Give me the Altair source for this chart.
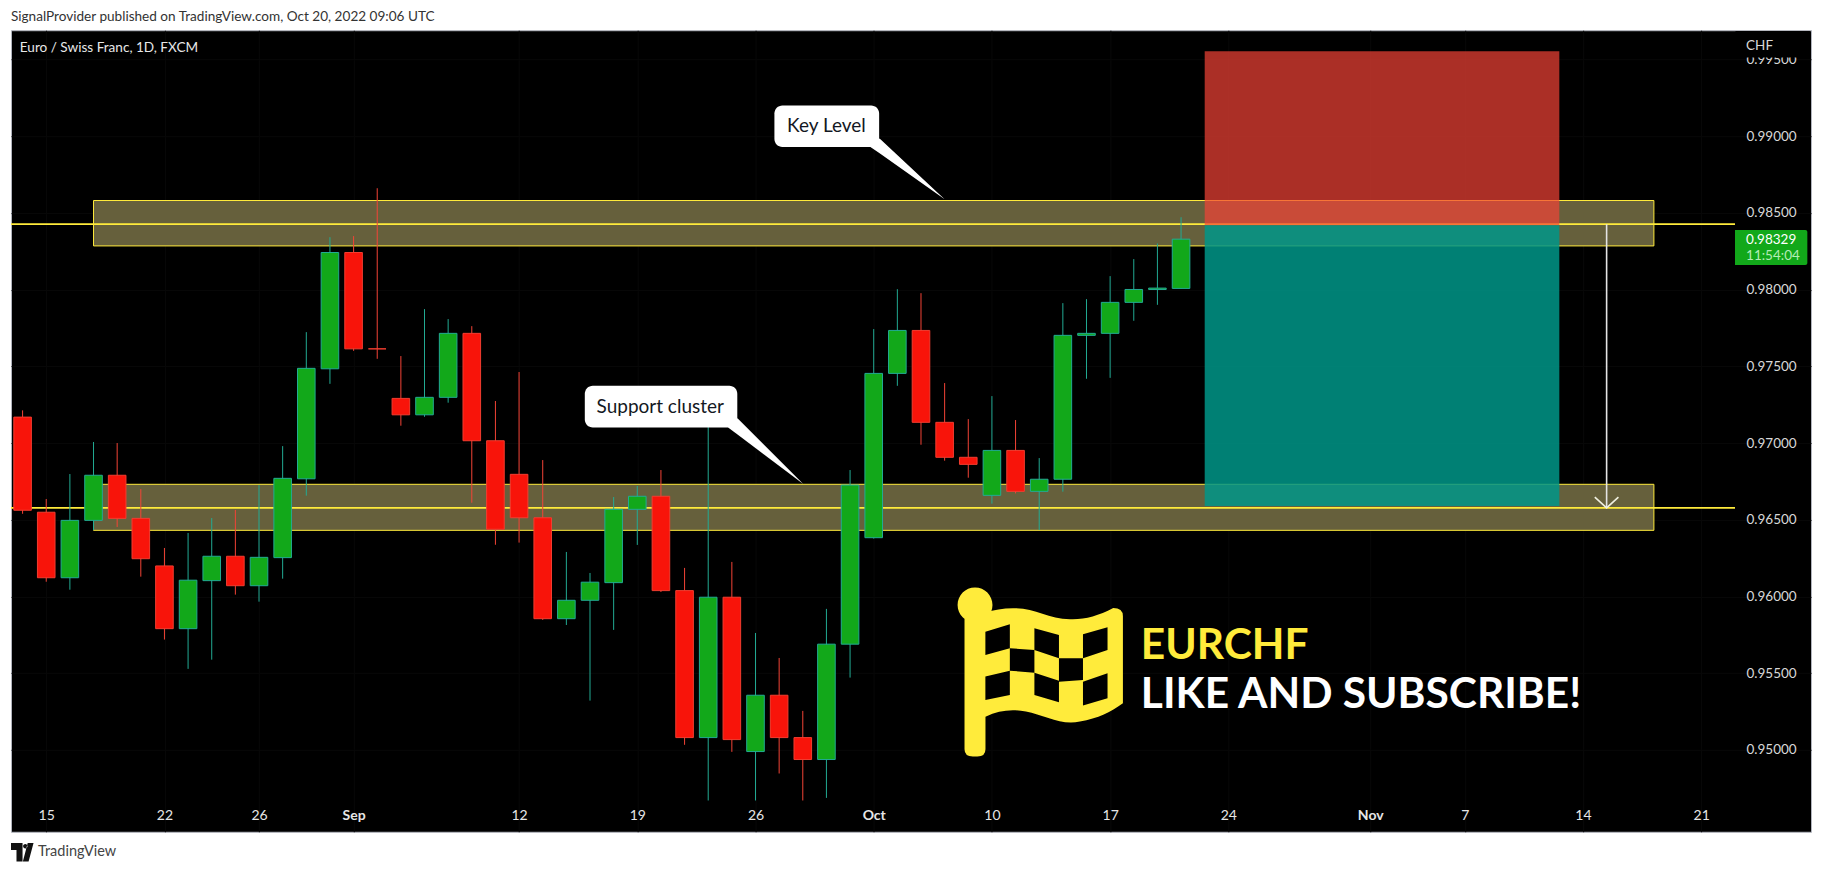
import altair as alt
import pandas as pd

# ---- daily candles, Aug 12 - Oct 20 2022 (trading-day index 0..49) ----
opens = [.97169,.96549,.96122,.96496,.96790,.96509,.96199,.95790,.96103,.96262,
         .96070,.96253,.96767,.97484,.98242,.97614,.97291,.97184,.97298,.97715,
         .97015,.96796,.96513,.95855,.95975,.96090,.96568,.96653,.96038,.95080,
         .95995,.94989,.95356,.95080,.94937,.95689,.96383,.97454,.97734,.97135,
         .96907,.96659,.96952,.96685,.96764,.97702,.97715,.97917,.98001,.98008]
closes = [.96562,.96122,.96496,.96790,.96509,.96246,.95790,.96106,.96262,.96070,
          .96255,.96770,.97487,.98242,.97614,.97614,.97184,.97298,.97715,.97015,
          .96438,.96513,.95855,.95975,.96093,.96568,.96653,.96038,.95080,.95995,
          .95067,.95356,.95080,.94937,.95689,.96726,.97454,.97734,.97135,.96907,
          .96861,.96952,.96685,.96764,.97702,.97715,.97917,.98001,.98010,.98329]
highs = [.97213,.96635,.96798,.97007,.97000,.96700,.96316,.96414,.96511,.96564,
         .96726,.96980,.97723,.98342,.98349,.98661,.97567,.97873,.97808,.97762,
         .97274,.97463,.96889,.96290,.96153,.96648,.96720,.96824,.96186,.97150,
         .96225,.95762,.95599,.95254,.95919,.96824,.97743,.98003,.97977,.97391,
         .97156,.97306,.97150,.96902,.97912,.97938,.98088,.98199,.98301,.98472]
lows = [.96539,.96096,.96044,.96433,.96453,.96129,.95719,.95528,.95588,.96012,
        .95966,.96116,.96657,.97386,.97601,.97549,.97113,.97171,.97263,.96611,
        .96337,.96351,.95847,.95814,.95321,.95782,.96336,.96029,.95033,.94670,
        .94987,.94670,.94846,.94670,.94687,.95471,.96377,.97373,.96989,.96885,
        .96774,.96605,.96672,.96433,.96683,.97419,.97425,.97797,.97901,.98008]

# ---- axes ----
x_tick_idx = [1, 6, 10, 14, 21, 26, 31, 36, 41, 46, 51, 57, 61, 66, 71]
x_tick_lab = ["15", "22", "26", "Sep", "12", "19", "26", "Oct", "10", "17", "24", "Nov", "7", "14", "21"]
x_bold = [14, 36, 57]
y_ticks = [.95, .955, .96, .965, .97, .975, .98, .985, .99, .995]

# ---- drawings ----
zone_x = [3, 69]
zone_key = [.98285, .98581]
zone_sup = [.96431, .96731]
level_key = .98427
level_sup = .96577
box_x = [50, 65]
box_red = [.98420, .99554]
box_teal = [.96590, .98420]
arrow_x = 67
arrow_head_x = [66.5, 67, 67.5]
arrow_head_y = [.96648, .96577, .96648]

FONT = "Lato"
YEL = "#ffeb3b"

lab_expr = "{" + ",".join(f"'{i}':'{l}'" for i, l in zip(x_tick_idx, x_tick_lab)) + "}[datum.value]"
bold_test = "indexof(" + str(x_bold) + ",datum.value)>=0"

xs = alt.Scale(domain=[-0.4904, 75.645], nice=False, zero=False, padding=0)
ys = alt.Scale(domain=[0.94466, 0.99691], nice=False, zero=False, padding=0)
ax_x = alt.Axis(
    orient="bottom", offset=-31, values=x_tick_idx, labelExpr=lab_expr, labelColor="#e6e6e6",
    labelFont=FONT, labelFontSize=14, labelPadding=8, ticks=False, domain=False, labelFlush=False,
    labelOverlap=False, grid=True, gridColor="#080808", gridWidth=1,
    labelFontWeight={"condition": {"test": bold_test, "value": "bold"}, "value": "normal"})
ax_y = alt.Axis(
    orient="right", offset=-76, values=y_ticks, format=".5f", labelColor="#d8d8d8",
    labelFont=FONT, labelFontSize=13.5, labelPadding=11, ticks=False, domain=False,
    labelOverlap=False, labelFlush=False, grid=True, gridColor="#080808", gridWidth=1)
X = alt.X("x:Q", scale=xs, axis=ax_x, title=None)
X2 = alt.X2("x2:Q")
Y = alt.Y("y:Q", scale=ys, axis=ax_y, title=None)
Y2 = alt.Y2("y2:Q")


def rect(x, x2, y, y2, **mark):
    d = pd.DataFrame({"x": [x], "x2": [x2], "y": [y], "y2": [y2]})
    return alt.Chart(d).mark_rect(**mark).encode(x=X, x2=X2, y=Y, y2=Y2)


def text(t, x, y, **mark):
    d = pd.DataFrame({"x": [x], "y": [y], "t": [t]})
    return alt.Chart(d).mark_text(font=FONT, **mark).encode(x=X, y=Y, text="t:N")


zones = pd.DataFrame({"x": [zone_x[0]] * 2, "x2": [zone_x[1]] * 2,
                      "y": [zone_key[0], zone_sup[0]], "y2": [zone_key[1], zone_sup[1]]})
base = alt.Chart(zones).mark_rect(fill="#66603c", stroke=YEL, strokeWidth=1).encode(x=X, x2=X2, y=Y, y2=Y2)

levels = pd.DataFrame({"x": [-0.4904] * 2, "x2": [72.43] * 2, "y": [level_key, level_sup]})
level_lines = alt.Chart(levels).mark_rule(color=YEL, strokeWidth=1.8).encode(x=X, x2=X2, y=Y)

red_box = rect(box_x[0], box_x[1], box_red[0], box_red[1], fill="#f44336", fillOpacity=0.7)
teal_box = rect(box_x[0], box_x[1], box_teal[0], box_teal[1], fill="#009688", fillOpacity=0.85)

arrow_shaft = alt.Chart(pd.DataFrame({"x": [arrow_x], "y": [level_key], "y2": [level_sup]})).mark_rule(
    color="#e4e4e4", strokeWidth=1.6).encode(x=X, y=Y, y2=Y2)
arrow_head = alt.Chart(pd.DataFrame({"x": arrow_head_x, "y": arrow_head_y, "o": [0, 1, 2]})).mark_line(
    color="#f0f0e0", strokeWidth=1.6).encode(x=X, y=Y, order="o:Q")

candles = pd.DataFrame({"x": list(range(len(opens))), "o": opens, "c": closes, "h": highs, "l": lows})
candles["dir"] = ["up" if c > o else "down" for o, c in zip(opens, closes)]
wicks = alt.Chart(candles).mark_rule(strokeWidth=1).encode(
    x=X, y=alt.Y("h:Q", scale=ys, axis=ax_y, title=None), y2=alt.Y2("l:Q"),
    color=alt.Color("dir:N", scale=alt.Scale(domain=["up", "down"], range=["#22ab94", "#f44336"]), legend=None))
bodies = alt.Chart(candles).mark_bar(size=17.6, strokeWidth=1).encode(
    x=X, y=alt.Y("o:Q", scale=ys, axis=ax_y, title=None), y2=alt.Y2("c:Q"),
    fill=alt.Fill("dir:N", scale=alt.Scale(domain=["up", "down"], range=["#12a81a", "#f8140a"]), legend=None),
    stroke=alt.Stroke("dir:N", scale=alt.Scale(domain=["up", "down"], range=["#22ab94", "#f23d30"]), legend=None))


def pointer(xv, yv, y2v):
    d = pd.DataFrame({"x": xv, "y": yv, "y2": y2v})
    return alt.Chart(d).mark_area(color="white", orient="vertical").encode(x=X, y=Y, y2=Y2)


key_box = rect(31.80, 36.23, .98930, .99200, fill="white", cornerRadius=8)
key_ptr = pointer([35.86, 36.25, 39.00], [.98930, .98985, .98590], [.98930, .98889, .98590])
key_txt = text("Key Level", 34.00, .99065, color="#131722", fontSize=19, align="center", baseline="middle")
sup_box = rect(23.78, 30.23, .97102, .97373, fill="white", cornerRadius=8)
sup_ptr = pointer([29.84, 30.24, 33.02], [.97102, .97161, .96733], [.97102, .97055, .96733])
sup_txt = text("Support cluster", 26.97, .97238, color="#131722", fontSize=19, align="center", baseline="middle")

FLAG = ("M -0.833 -0.65 L -0.833 0.86 Q -0.833 0.941 -0.74 0.941 L -0.69 0.941 Q -0.6 0.941 -0.6 0.86 L -0.6 0.497 "
        "C -0.45 0.43 -0.32 0.41 -0.15 0.44 C 0.05 0.48 0.25 0.6 0.45 0.55 C 0.65 0.52 0.8 0.44 0.928 0.348 "
        "L 0.928 -0.62 Q 0.928 -0.71 0.82 -0.71 C 0.65 -0.62 0.5 -0.58 0.34 -0.586 C 0.1 -0.59 -0.05 -0.71 -0.276 -0.708 "
        "C -0.4 -0.71 -0.5 -0.69 -0.6 -0.659 Z "
        "M -0.91 -0.744 A 0.194 0.194 0 1 0 -0.522 -0.744 A 0.194 0.194 0 1 0 -0.91 -0.744 Z")
CHECK = ("M -0.601 -0.448 L -0.329 -0.53 L -0.329 -0.263 L -0.601 -0.189 Z "
         "M -0.056 -0.486 L 0.217 -0.411 L 0.217 -0.152 L -0.056 -0.244 Z "
         "M 0.484 -0.419 L 0.757 -0.497 L 0.757 -0.244 L 0.484 -0.152 Z "
         "M -0.329 -0.263 L -0.056 -0.244 L -0.056 0.008 L -0.329 -0.014 Z "
         "M 0.217 -0.152 L 0.484 -0.152 L 0.484 0.089 L 0.217 0.108 Z "
         "M -0.601 0.052 L -0.329 -0.014 L -0.329 0.256 L -0.601 0.311 Z "
         "M -0.056 0.008 L 0.217 0.097 L 0.217 0.337 L -0.056 0.256 Z "
         "M 0.484 0.108 L 0.757 0.014 L 0.757 0.292 L 0.484 0.374 Z")
flag_pos = pd.DataFrame({"x": [43.01], "y": [.95508]})
flag_y = alt.Chart(flag_pos).mark_point(shape=FLAG, filled=True, color=YEL, size=32400, opacity=1, strokeWidth=0).encode(x=X, y=Y)
flag_b = alt.Chart(flag_pos).mark_point(shape=CHECK, filled=True, color="black", size=32400, opacity=1, strokeWidth=0).encode(x=X, y=Y)

big1 = text("EURCHF", 47.30, .95591, color=YEL, fontSize=42.5, fontWeight="bold", align="left", baseline="alphabetic")
big2 = text("LIKE AND SUBSCRIBE!", 47.30, .95272, color="white", fontSize=42.5, fontWeight="bold", align="left", baseline="alphabetic")

tag = rect(72.43, 75.49, .98160, .98388, fill="#12a81a", cornerRadiusTopRight=2, cornerRadiusBottomRight=2)
tag1 = text("0.98329", 72.90, .98323, color="white", fontSize=13.5, align="left", baseline="middle")
tag2 = text("11:54:04", 72.90, .98218, color="#b4ecb6", fontSize=13.5, align="left", baseline="middle")

mask = rect(72.45, 75.6, .99513, .99686, fill="black")
chf = text("CHF", 72.90, .99586, color="#d8d8d8", fontSize=13.5, align="left", baseline="middle")
legend = text("Euro / Swiss Franc, 1D, FXCM", -0.118, .99578, color="#e8e8e8", fontSize=13.6, align="left", baseline="middle")

# footer: TradingView wordmark below the frame
TV = ("M -1 -0.85 L 0.05 -0.85 L 0.05 0.85 L -0.5 0.85 L -0.5 -0.2 L -1 -0.2 Z "
      "M 0.1 -0.55 A 0.2 0.2 0 1 0 0.5 -0.55 A 0.2 0.2 0 1 0 0.1 -0.55 Z "
      "M 0.52 -0.85 L 1.05 -0.85 L 0.6 0.85 L 0.08 0.85 Z")
tv_logo = alt.Chart(pd.DataFrame({"a": [1]})).mark_point(shape=TV, filled=True, color="#111111", size=484, opacity=1, strokeWidth=0).encode(
    x=alt.value(11), y=alt.value(822.5))
tv_word = alt.Chart(pd.DataFrame({"t": ["TradingView"]})).mark_text(font=FONT, fontSize=14.5, color="#444444", align="left", baseline="middle").encode(
    x=alt.value(27), y=alt.value(822.7), text="t:N")

chart = alt.layer(
    base, level_lines, red_box, teal_box, arrow_shaft, arrow_head,
    wicks, bodies,
    key_ptr, key_box, key_txt, sup_ptr, sup_box, sup_txt,
    flag_y, flag_b, big1, big2,
    tag, tag1, tag2, mask, chf, legend, tv_logo, tv_word,
).properties(
    width=1801, height=802,
    padding={"top": 22, "left": 3, "right": 4, "bottom": 30},
    autosize=alt.AutoSizeParams(type="none"),
    background="white",
    title=alt.TitleParams("SignalProvider published on TradingView.com, Oct 20, 2022 09:06 UTC",
                          anchor="start", frame="group", font=FONT, fontSize=13.6, fontWeight="normal",
                          color="#333333", offset=7),
).configure_view(fill="black", stroke="#b2b5be", strokeWidth=1)

chart.save("out.html", embed_options={"renderer": "svg", "actions": False})
